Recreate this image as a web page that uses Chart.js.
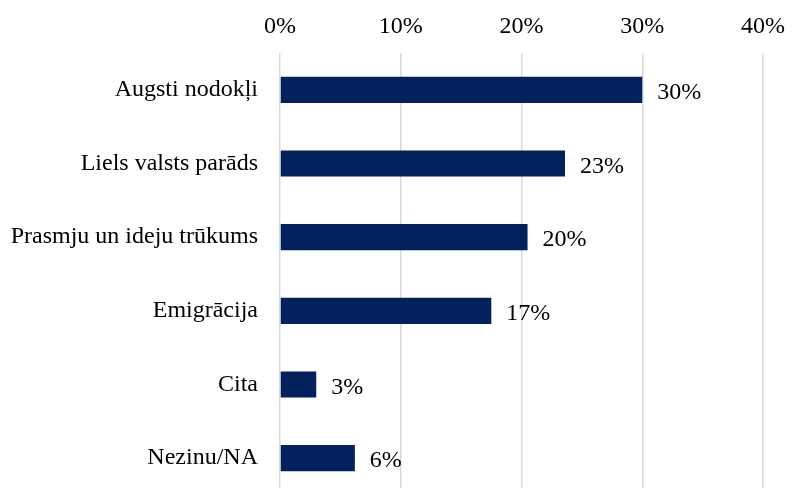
<!DOCTYPE html>
<html>
<head>
<meta charset="utf-8">
<script src="https://cdn.jsdelivr.net/npm/chart.js@4/dist/chart.umd.min.js"></script>
<style>
  html, body { margin: 0; padding: 0; background: #fff; overflow: hidden; }
  canvas { display: block; }
</style>
</head>
<body>
<canvas id="myChart" width="797" height="495"></canvas>
<script>
// categories and values
var categories = ["Augsti nodokļi", "Liels valsts parāds", "Prasmju un ideju trūkums", "Emigrācija", "Cita", "Nezinu/NA"];
var shares = [30.0, 23.6, 20.5, 17.5, 3.0, 6.2];
var shareLabels = ["30%", "23%", "20%", "17%", "3%", "6%"];
var xTicks = [0, 10, 20, 30, 40];

var serif = "'Liberation Serif', 'Times New Roman', serif";

// draws the value labels right of each bar end
var barValueLabels = {
  id: "barValueLabels",
  afterDatasetsDraw: function(chart) {
    var ctx = chart.ctx;
    var meta = chart.getDatasetMeta(0);
    ctx.save();
    ctx.font = "24px " + serif;
    ctx.fillStyle = "#000";
    ctx.textAlign = "left";
    ctx.textBaseline = "middle";
    meta.data.forEach(function(bar, i) {
      ctx.fillText(shareLabels[i], bar.x + 15, bar.y + 3);
    });
    ctx.restore();
  }
};

new Chart(document.getElementById("myChart"), {
  type: "bar",
  data: {
    labels: categories,
    datasets: [{
      data: shares,
      backgroundColor: "#03215c",
      borderWidth: 0,
      categoryPercentage: 1,
      barPercentage: 0.355
    }]
  },
  options: {
    indexAxis: "y",
    responsive: false,
    animation: false,
    layout: { padding: { top: 0, right: 17, bottom: 0, left: 0 } },
    plugins: {
      legend: { display: false },
      tooltip: { enabled: false }
    },
    scales: {
      x: {
        position: "top",
        min: 0,
        max: 40,
        afterBuildTicks: function(axis) {
          axis.ticks = xTicks.map(function(v) { return { value: v }; });
        },
        afterFit: function(axis) { axis.height = 53; },
        ticks: {
          padding: 12,
          color: "#000",
          font: { family: serif, size: 24 },
          callback: function(v) { return v + "%"; }
        },
        grid: { color: "#d9d9d9", lineWidth: 1.5, drawTicks: false },
        border: { display: false }
      },
      y: {
        afterFit: function(axis) {
          axis.width = 280;
          axis.paddingTop = 0;
          axis.paddingBottom = 0;
        },
        ticks: {
          padding: 22,
          color: "#000",
          font: { family: serif, size: 24 }
        },
        grid: { display: false, drawTicks: false },
        border: { display: false }
      }
    }
  },
  plugins: [barValueLabels]
});
</script>
</body>
</html>
